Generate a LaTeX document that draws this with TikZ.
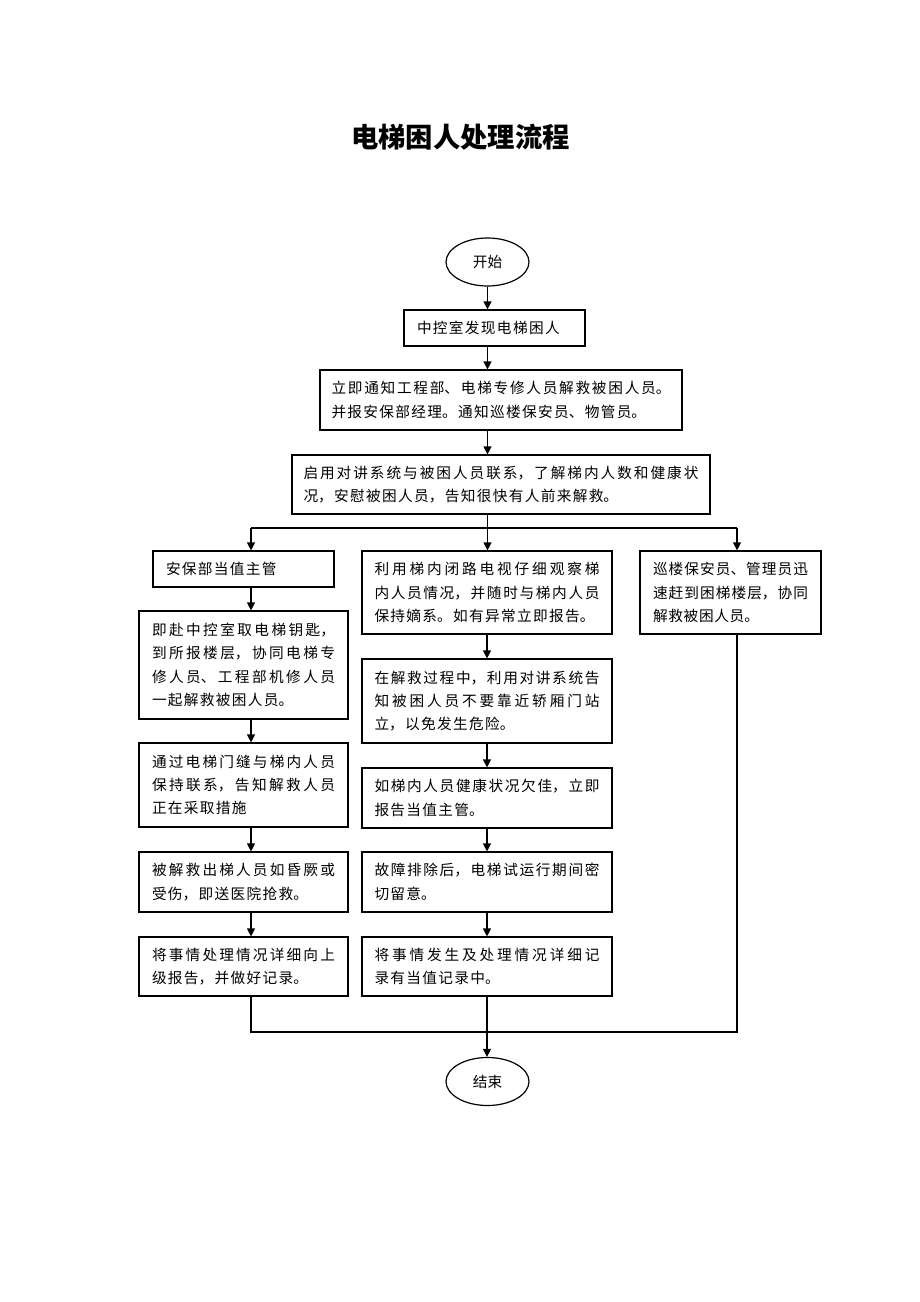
\documentclass[tikz,border=0pt]{standalone}
\usepackage{fontspec}
\setmainfont{Noto Sans CJK SC}
\usetikzlibrary{shapes.geometric,arrows.meta}
\XeTeXlinebreaklocale "zh"
\XeTeXlinebreakskip=1pt plus 4pt
\XeTeXlinebreakpenalty=10000

\tikzset{
  stepbox/.style={draw,line width=0.9pt,rectangle,inner sep=0pt,align=justify,font=\fontsize{11}{17.5}\selectfont},
  endbox/.style={draw,line width=0.9pt,ellipse,minimum width=62.25pt,minimum height=36pt,inner sep=0pt,font=\fontsize{11}{12}\selectfont},
  leftbox/.style={stepbox,minimum width=156.75pt,text width=137.25pt},
  midbox/.style={stepbox,minimum width=187.5pt,text width=168.75pt},
  narrowbox/.style={stepbox,minimum width=135.75pt,text width=116.25pt},
  flow/.style={line width=0.9pt,-{Triangle[length=6pt,width=6pt]}},
  wire/.style={line width=0.9pt},
}

\begin{document}
\begin{tikzpicture}[x=0.75pt,y=-0.75pt]
\useasboundingbox (0,0) rectangle (920,1302);

\node [font=\fontsize{20.5}{24}\selectfont\bfseries] at (460.5,137) (title) {电梯困人处理流程};

\node [endbox] at (487.5,262) (start) {开始};
\node [narrowbox,minimum height=27pt] at (494.5,328) (find) {中控室发现电梯困人};
\node [stepbox,minimum width=271.5pt,text width=254.25pt,minimum height=45pt] at (501,400) (notify)
  {立即通知工程部、电梯专修人员解救被困人员。\linebreak 并报安保部经理。通知巡楼保安员、物管员。};
\node [stepbox,minimum width=313.5pt,text width=296.25pt,minimum height=44.25pt] at (501,484.5) (calm)
  {启用对讲系统与被困人员联系，了解梯内人数和健康状\linebreak 况，安慰被困人员，告知很快有人前来解救。};

% left column
\node [narrowbox,minimum height=27pt] at (243.5,569) (guard) {安保部当值主管};
\node [leftbox,minimum height=81pt] at (243.5,665) (key)
  {即赴中控室取电梯钥匙，\linebreak 到所报楼层，协同电梯专\linebreak 修人员、工程部机修人员\linebreak 一起解救被困人员。};
\node [leftbox,minimum height=63pt] at (243.5,785) (gap)
  {通过电梯门缝与梯内人员\linebreak 保持联系，告知解救人员\linebreak 正在采取措施};
\node [leftbox,minimum height=45pt] at (243.5,882) (hurt)
  {被解救出梯人员如昏厥或\linebreak 受伤，即送医院抢救。};
\node [leftbox,minimum height=44.25pt] at (243.5,966.5) (report)
  {将事情处理情况详细向上\linebreak 级报告，并做好记录。};

% middle column
\node [midbox,minimum height=62.25pt] at (487,592.5) (watch)
  {利用梯内闭路电视仔细观察梯\linebreak 内人员情况，并随时与梯内人员\linebreak 保持嫡系。如有异常立即报告。};
\node [midbox,minimum height=63pt] at (487,701) (talk)
  {在解救过程中，利用对讲系统告\linebreak 知被困人员不要靠近轿厢门站\linebreak 立，以免发生危险。};
\node [midbox,minimum height=45pt] at (487,798) (health)
  {如梯内人员健康状况欠佳，立即\linebreak 报告当值主管。};
\node [midbox,minimum height=45pt] at (487,882) (trial)
  {故障排除后，电梯试运行期间密\linebreak 切留意。};
\node [midbox,minimum height=44.25pt] at (487,966.5) (record)
  {将事情发生及处理情况详细记\linebreak 录有当值记录中。};

% right column
\node [narrowbox,minimum height=62.25pt] at (730.5,592.5) (patrol)
  {\XeTeXlinebreakskip=0.5pt plus 4pt 巡楼保安员、管理员迅\linebreak 速赶到困梯楼层，协同\linebreak 解救被困人员。};

\node [endbox] at (487.5,1081.5) (stop) {结束};

\coordinate (lcol) at (251,528);
\coordinate (rcol) at (737,528);
\coordinate (join) at (487,1032);

\draw [flow] (start) to (start |- find.north);
\draw [flow] (start |- find.south) to (start |- notify.north);
\draw [flow] (start |- notify.south) to (start |- calm.north);
\draw [flow] (start |- calm.south) to (start |- watch.north);
\draw [wire] (lcol) to (rcol);
\draw [flow] (lcol) to (lcol |- guard.north);
\draw [flow] (rcol) to (rcol |- patrol.north);

\foreach \a/\b in {guard/key,key/gap,gap/hurt,hurt/report}
  \draw [flow] (lcol |- \a.south) to (lcol |- \b.north);
\foreach \a/\b in {watch/talk,talk/health,health/trial,trial/record}
  \draw [flow] (\a.south) to (\b.north);

\draw [wire] (lcol |- report.south) -- (lcol |- join) -- (rcol |- join) -- (rcol |- patrol.south);
\draw [flow] (record.south) to (record.south |- stop.north);

\end{tikzpicture}
\end{document}
